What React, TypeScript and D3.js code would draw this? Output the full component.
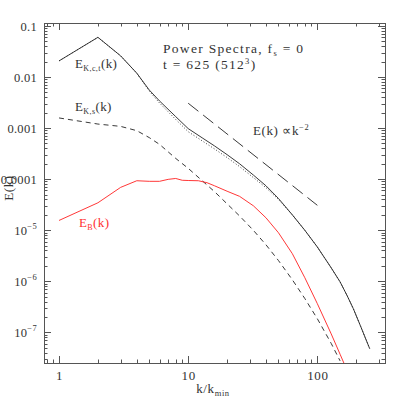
import React, { useEffect, useRef } from "react";
import * as d3 from "d3";

// E_K,c,t(k) — solid
const kSolid = [1, 2, 3, 4, 5, 6, 8, 10, 13, 16, 20, 25, 32, 40, 50, 64, 80, 100, 128, 150, 170, 190, 215, 235, 254];
const eSolid = [0.0207, 0.06, 0.026, 0.0119, 0.00556, 0.0034, 0.00168, 9.77e-4, 6.31e-4, 4.47e-4, 3.02e-4, 2.0e-4, 1.2e-4, 7.41e-5, 4.18e-5, 2.0e-5, 9.95e-6, 4.68e-6, 1.83e-6, 9.7e-7, 5.22e-7, 2.89e-7, 1.36e-7, 7.8e-8, 4.8e-8];

// dotted companion curve (slightly lower in the mid range)
const kDotted = [1, 2, 3, 4, 5, 6, 8, 10, 13, 16, 20, 25, 32, 40, 50, 64, 80, 100, 128, 150, 170, 190, 215, 235, 254];
const eDotted = [0.0207, 0.06, 0.026, 0.0119, 0.0053, 0.0031, 0.00148, 8.5e-4, 5.5e-4, 3.9e-4, 2.65e-4, 1.76e-4, 1.07e-4, 6.8e-5, 4.0e-5, 2.0e-5, 9.95e-6, 4.68e-6, 1.83e-6, 9.7e-7, 5.22e-7, 2.89e-7, 1.36e-7, 7.8e-8, 4.8e-8];

// E_K,s(k) — dashed
const kDashed = [1, 2, 3, 4, 5, 6, 8, 10, 16, 25, 32, 40, 50, 64, 80, 100, 128, 150];
const eDashed = [1.58e-3, 1.2e-3, 1.08e-3, 8.9e-4, 6.5e-4, 4.8e-4, 2.55e-4, 1.63e-4, 5.68e-5, 1.9e-5, 9.9e-6, 5.18e-6, 2.54e-6, 1.07e-6, 4.58e-7, 1.84e-7, 6.05e-8, 2.75e-8];

// E_B(k) — red
const kRed = [1, 2, 3, 4, 5, 6, 7, 8, 9, 10, 12, 14, 16, 20, 25, 32, 40, 50, 64, 80, 100, 128, 150, 170];
const eRed = [1.55e-5, 3.44e-5, 6.9e-5, 9.3e-5, 9.06e-5, 9.06e-5, 9.9e-5, 1.03e-4, 9.5e-5, 9.4e-5, 9.3e-5, 8.5e-5, 7.4e-5, 5.8e-5, 4.6e-5, 3.0e-5, 1.75e-5, 8.9e-6, 3.47e-6, 1.17e-6, 3.63e-7, 9.3e-8, 3.7e-8, 1.78e-8];

// reference slope line k^-2
const kRef = [10, 100];
const eRef = [3.07e-3, 3.07e-5];

const xTickValues = [1, 10, 100];
const xTickLabels = ["1", "10", "100"];
const yTickValues = [0.1, 0.01, 0.001, 0.0001, 1e-5, 1e-6, 1e-7];
const yTickLabels = [
  { base: "0.1", exp: "" },
  { base: "0.01", exp: "" },
  { base: "0.001", exp: "" },
  { base: "0.0001", exp: "" },
  { base: "10", exp: "−5" },
  { base: "10", exp: "−6" },
  { base: "10", exp: "−7" },
];

const FONT = "Liberation Serif";
const INK = "#333";

const App = () => {
  const ref = useRef<SVGSVGElement>(null);

  useEffect(() => {
    const width = 407;
    const height = 407;
    const plot = { left: 44, right: 385, top: 23, bottom: 363 };

    const svg = d3.select(ref.current);
    svg.selectAll("*").remove();
    svg.attr("width", width).attr("height", height);

    const x = d3.scaleLog().domain([0.765, 334]).range([plot.left, plot.right]);
    const y = d3.scaleLog().domain([2.5e-8, 0.1145]).range([plot.bottom, plot.top]);

    svg
      .append("defs")
      .append("clipPath")
      .attr("id", "plotclip")
      .append("rect")
      .attr("x", plot.left)
      .attr("y", plot.top)
      .attr("width", plot.right - plot.left)
      .attr("height", plot.bottom - plot.top);

    // frame
    svg
      .append("rect")
      .attr("x", plot.left + 0.5)
      .attr("y", plot.top + 0.5)
      .attr("width", plot.right - plot.left)
      .attr("height", plot.bottom - plot.top)
      .attr("fill", "none")
      .attr("stroke", "#555")
      .attr("stroke-width", 1);

    const isMajor = (v: number) =>
      Math.abs(Math.log10(v) - Math.round(Math.log10(v))) < 1e-6;

    const ticks = svg.append("g").attr("stroke", "#555").attr("stroke-width", 1);
    x.ticks().forEach((v) => {
      const px = Math.round(x(v)) + 0.5;
      const len = isMajor(v) ? 7 : 3.5;
      ticks.append("line").attr("x1", px).attr("x2", px).attr("y1", plot.bottom).attr("y2", plot.bottom - len);
      ticks.append("line").attr("x1", px).attr("x2", px).attr("y1", plot.top).attr("y2", plot.top + len);
    });
    y.ticks().forEach((v) => {
      const py = Math.round(y(v)) + 0.5;
      const len = isMajor(v) ? 7 : 3.5;
      ticks.append("line").attr("x1", plot.left).attr("x2", plot.left + len).attr("y1", py).attr("y2", py);
      ticks.append("line").attr("x1", plot.right).attr("x2", plot.right - len).attr("y1", py).attr("y2", py);
    });

    // tick labels
    xTickValues.forEach((v, i) => {
      svg
        .append("text")
        .attr("x", x(v) + 0.5)
        .attr("y", 380)
        .attr("text-anchor", "middle")
        .attr("font-family", FONT)
        .attr("font-size", 13)
        .attr("letter-spacing", 0.6)
        .attr("fill", INK)
        .text(xTickLabels[i]);
    });
    yTickValues.forEach((v, i) => {
      const t = svg
        .append("text")
        .attr("x", 37)
        .attr("y", y(v) + 4.5)
        .attr("text-anchor", "end")
        .attr("font-family", FONT)
        .attr("font-size", 12.5)
        .attr("letter-spacing", 0.3)
        .attr("fill", INK);
      t.append("tspan").text(yTickLabels[i].base);
      if (yTickLabels[i].exp) {
        t.append("tspan").attr("dy", -6).attr("font-size", 8.5).text(yTickLabels[i].exp);
      }
    });

    // axis titles
    const xt = svg
      .append("text")
      .attr("x", 213)
      .attr("y", 393)
      .attr("text-anchor", "middle")
      .attr("font-family", FONT)
      .attr("font-size", 13)
      .attr("letter-spacing", 0.6)
      .attr("fill", INK);
    xt.append("tspan").text("k/k");
    xt.append("tspan").attr("dy", 3).attr("font-size", 8.5).text("min");

    svg
      .append("text")
      .attr("transform", "translate(13,188) rotate(-90)")
      .attr("text-anchor", "middle")
      .attr("font-family", FONT)
      .attr("font-size", 13)
      .attr("letter-spacing", 0.6)
      .attr("fill", INK)
      .text("E(k)");

    // curves
    const curves = svg.append("g").attr("clip-path", "url(#plotclip)").attr("fill", "none");
    const line = d3
      .line<[number, number]>()
      .x((d) => x(d[0]))
      .y((d) => y(d[1]));
    const zip = (ks: number[], es: number[]) => ks.map((k, i) => [k, es[i]] as [number, number]);

    curves
      .append("path")
      .attr("d", line(zip(kDotted, eDotted)))
      .attr("stroke", "#444")
      .attr("stroke-width", 1)
      .attr("stroke-dasharray", "1,2");
    curves
      .append("path")
      .attr("d", line(zip(kSolid, eSolid)))
      .attr("stroke", "#222")
      .attr("stroke-width", 0.9);
    curves
      .append("path")
      .attr("d", line(zip(kDashed, eDashed)))
      .attr("stroke", "#222")
      .attr("stroke-width", 0.9)
      .attr("stroke-dasharray", "5,4");
    curves
      .append("path")
      .attr("d", line(zip(kRed, eRed)))
      .attr("stroke", "#ff2020")
      .attr("stroke-width", 0.9);
    curves
      .append("path")
      .attr("d", line(zip(kRef, eRef)))
      .attr("stroke", "#222")
      .attr("stroke-width", 0.9)
      .attr("stroke-dasharray", "13,6");

    // annotations
    const label = (px: number, py: number, main: string, sub: string, tail: string, color: string) => {
      const t = svg
        .append("text")
        .attr("x", px)
        .attr("y", py)
        .attr("font-family", FONT)
        .attr("font-size", 13)
        .attr("letter-spacing", 0.4)
        .attr("fill", color);
      t.append("tspan").text(main);
      t.append("tspan").attr("dy", 3).attr("font-size", 8).text(sub);
      t.append("tspan").attr("dy", -3).text(tail);
    };
    label(75, 68, "E", "K,c,t", "(k)", INK);
    label(75, 111, "E", "K,s", "(k)", INK);
    label(79, 227, "E", "B", "(k)", "#ff3030");

    const title = svg
      .append("text")
      .attr("x", 163)
      .attr("y", 53)
      .attr("font-family", FONT)
      .attr("font-size", 13.5)
      .attr("letter-spacing", 1.3)
      .attr("fill", INK);
    title.append("tspan").text("Power Spectra, f");
    title.append("tspan").attr("dy", 3).attr("font-size", 8.5).text("s");
    title.append("tspan").attr("dy", -3).text(" = 0");

    const sub = svg
      .append("text")
      .attr("x", 163)
      .attr("y", 69)
      .attr("font-family", FONT)
      .attr("font-size", 13.5)
      .attr("letter-spacing", 1.3)
      .attr("fill", INK);
    sub.append("tspan").text("t = 625 (512");
    sub.append("tspan").attr("dy", -5).attr("font-size", 8.5).text("3");
    sub.append("tspan").attr("dy", 5).text(")");

    const slope = svg
      .append("text")
      .attr("x", 253)
      .attr("y", 135)
      .attr("font-family", FONT)
      .attr("font-size", 13)
      .attr("letter-spacing", 0.6)
      .attr("fill", INK);
    slope.append("tspan").text("E(k) ∝k");
    slope.append("tspan").attr("dy", -5).attr("font-size", 8.5).text("−2");
  }, []);

  return (
    <svg
      ref={ref}
      style={{ position: "absolute", left: 0, top: 0, background: "white" }}
    ></svg>
  );
};

export default App;
